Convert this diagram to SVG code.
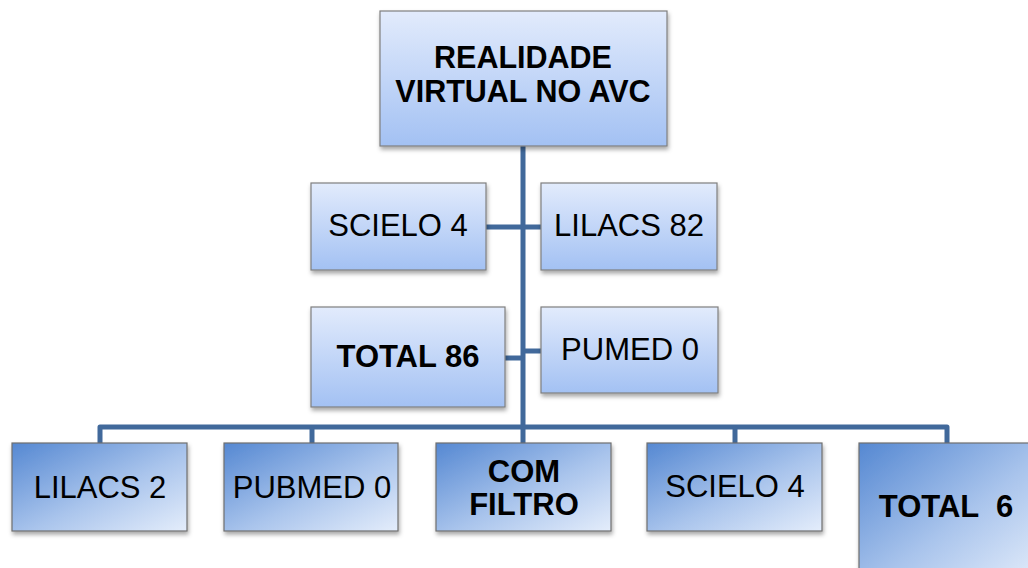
<svg xmlns="http://www.w3.org/2000/svg" width="1028" height="568" viewBox="0 0 1028 568">
<defs>
<linearGradient id="gTop" x1="0" y1="0" x2="0" y2="1">
<stop offset="0" stop-color="#e2ebfc"/>
<stop offset="1" stop-color="#a3c1f3"/>
</linearGradient>
<linearGradient id="gBot" x1="0" y1="0" x2="1" y2="1">
<stop offset="0" stop-color="#5588d2"/>
<stop offset="0.55" stop-color="#a9c4ec"/>
<stop offset="1" stop-color="#e4edfb"/>
</linearGradient>
<filter id="sh" x="-10%" y="-10%" width="130%" height="140%">
<feDropShadow dx="1" dy="3" stdDeviation="2" flood-color="#000" flood-opacity="0.35"/>
</filter>
</defs>
<style>
.bt{fill:url(#gTop);stroke:#7f7f7f;stroke-width:1.2;filter:url(#sh)}
.bb{fill:url(#gBot);stroke:#6f6f6f;stroke-width:1.2;filter:url(#sh)}
.t{font-family:"Liberation Sans",Arial,sans-serif;font-size:31px;fill:#000;text-anchor:middle}
.b{font-weight:bold}
.h{font-size:30.5px}
.c{fill:none;stroke:#41699b;stroke-width:5;stroke-linejoin:round}
</style>
<g id="connectors">
<path class="c" d="M523 146 V443"/>
<path class="c" d="M486 227 H541"/>
<path class="c" d="M505 358 H523"/>
<path class="c" d="M523 351 H541"/>
<path class="c" d="M100 443 V427 H947 V443"/>
<path class="c" d="M312 427 V443"/>
<path class="c" d="M735 427 V443"/>
</g>
<g id="n-realidade">
<rect class="bt" x="380" y="11" width="287" height="135"/>
<text class="t b h" x="523" y="68">REALIDADE</text>
<text class="t b h" x="523" y="102">VIRTUAL NO AVC</text>
</g>
<g id="n-scielo4">
<rect class="bt" x="311" y="183" width="175" height="87"/>
<text class="t" x="398" y="236">SCIELO 4</text>
</g>
<g id="n-lilacs82">
<rect class="bt" x="541" y="183" width="176" height="87"/>
<text class="t" x="629" y="236">LILACS 82</text>
</g>
<g id="n-total86">
<rect class="bt" x="311" y="307" width="194" height="100"/>
<text class="t b" x="408" y="367">TOTAL 86</text>
</g>
<g id="n-pumed0">
<rect class="bt" x="541" y="307" width="177" height="86"/>
<text class="t" x="630" y="360">PUMED 0</text>
</g>
<g id="n-lilacs2">
<rect class="bb" x="12" y="443" width="175" height="88"/>
<text class="t" x="100" y="498">LILACS 2</text>
</g>
<g id="n-pubmed0">
<rect class="bb" x="224" y="443" width="174" height="88"/>
<text class="t" x="312" y="498">PUBMED 0</text>
</g>
<g id="n-comfiltro">
<rect class="bb" x="436" y="443" width="175" height="88"/>
<text class="t b" x="524" y="482">COM</text>
<text class="t b" x="524" y="515">FILTRO</text>
</g>
<g id="n-scielo4b">
<rect class="bb" x="647" y="443" width="175" height="88"/>
<text class="t" x="735" y="497">SCIELO 4</text>
</g>
<g id="n-total6">
<rect class="bb" x="859" y="443" width="180" height="140"/>
<text class="t b" x="946" y="517" xml:space="preserve">TOTAL  6</text>
</g>
</svg>
